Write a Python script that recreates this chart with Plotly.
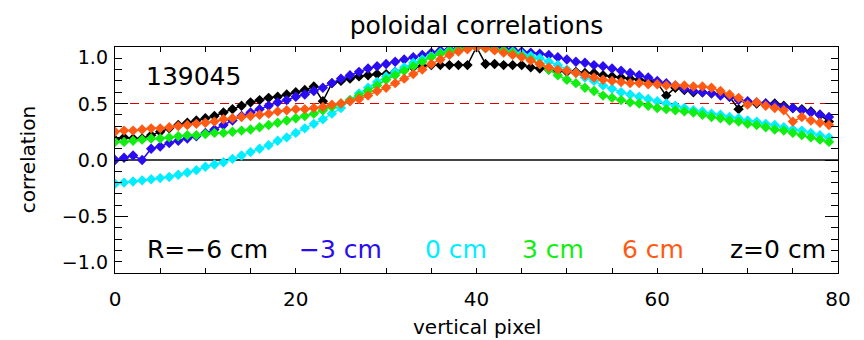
import plotly.graph_objects as go

pixels = list(range(80))

r_m6 = [0.18, 0.20, 0.19, 0.19, 0.22, 0.25, 0.28, 0.31, 0.33, 0.35,
        0.37, 0.39, 0.42, 0.45, 0.48, 0.51, 0.53, 0.55, 0.56, 0.58,
        0.60, 0.62, 0.65, 0.52, 0.68, 0.70, 0.72, 0.74, 0.75, 0.76,
        0.76, 0.78, 0.80, 0.82, 0.83, 0.84, 0.84, 0.84, 0.84, 0.84,
        1.00, 0.85, 0.85, 0.84, 0.84, 0.84, 0.82, 0.81, 0.80, 0.79,
        0.78, 0.78, 0.77, 0.77, 0.75, 0.74, 0.73, 0.72, 0.71, 0.70,
        0.68, 0.57, 0.64, 0.62, 0.60, 0.60, 0.59, 0.58, 0.56, 0.45,
        0.51, 0.50, 0.50, 0.50, 0.48, 0.46, 0.45, 0.43, 0.40, 0.34]

r_m3 = [0.00, 0.02, 0.04, 0.00, 0.10, 0.12, 0.15, 0.17, 0.19, 0.21,
        0.24, 0.27, 0.31, 0.35, 0.39, 0.42, 0.45, 0.48, 0.51, 0.53,
        0.56, 0.58, 0.61, 0.64, 0.68, 0.72, 0.75, 0.78, 0.81, 0.83,
        0.85, 0.87, 0.89, 0.91, 0.93, 0.95, 0.97, 0.98, 0.99, 0.99,
        1.00, 1.00, 0.99, 0.99, 0.98, 0.96, 0.95, 0.94, 0.93, 0.91,
        0.89, 0.87, 0.86, 0.84, 0.83, 0.81, 0.79, 0.77, 0.75, 0.73,
        0.70, 0.68, 0.66, 0.63, 0.61, 0.60, 0.59, 0.57, 0.56, 0.53,
        0.52, 0.51, 0.50, 0.49, 0.47, 0.46, 0.44, 0.42, 0.40, 0.38]

r_0 = [-0.21, -0.20, -0.19, -0.18, -0.17, -0.16, -0.15, -0.13, -0.11, -0.09,
       -0.06, -0.04, -0.02, 0.01, 0.04, 0.07, 0.10, 0.13, 0.17, 0.20,
       0.24, 0.28, 0.32, 0.36, 0.41, 0.46, 0.53, 0.59, 0.64, 0.69,
       0.74, 0.78, 0.82, 0.86, 0.89, 0.92, 0.95, 0.97, 0.98, 0.99,
       1.00, 0.99, 0.98, 0.97, 0.96, 0.94, 0.92, 0.90, 0.87, 0.84,
       0.80, 0.77, 0.73, 0.70, 0.66, 0.63, 0.60, 0.58, 0.56, 0.54,
       0.52, 0.50, 0.48, 0.46, 0.44, 0.43, 0.41, 0.40, 0.38, 0.37,
       0.35, 0.34, 0.32, 0.31, 0.29, 0.27, 0.26, 0.24, 0.22, 0.20]

r_p3 = [0.16, 0.16, 0.17, 0.18, 0.19, 0.19, 0.20, 0.21, 0.22, 0.22,
        0.23, 0.24, 0.24, 0.25, 0.26, 0.27, 0.29, 0.31, 0.33, 0.35,
        0.37, 0.39, 0.41, 0.44, 0.47, 0.50, 0.53, 0.57, 0.61, 0.66,
        0.71, 0.75, 0.79, 0.83, 0.87, 0.91, 0.94, 0.96, 0.98, 0.99,
        1.00, 0.99, 0.98, 0.97, 0.95, 0.92, 0.89, 0.85, 0.80, 0.75,
        0.71, 0.68, 0.64, 0.61, 0.57, 0.55, 0.53, 0.51, 0.50, 0.48,
        0.46, 0.45, 0.44, 0.43, 0.42, 0.40, 0.38, 0.37, 0.35, 0.34,
        0.32, 0.31, 0.29, 0.27, 0.26, 0.24, 0.22, 0.20, 0.18, 0.16]

r_p6 = [0.25, 0.26, 0.26, 0.27, 0.28, 0.28, 0.29, 0.30, 0.31, 0.32,
        0.33, 0.34, 0.36, 0.37, 0.38, 0.39, 0.40, 0.41, 0.43, 0.44,
        0.45, 0.45, 0.46, 0.47, 0.49, 0.50, 0.52, 0.54, 0.57, 0.61,
        0.64, 0.68, 0.72, 0.76, 0.80, 0.85, 0.89, 0.93, 0.96, 0.98,
        1.00, 0.99, 0.97, 0.95, 0.93, 0.91, 0.88, 0.85, 0.82, 0.80,
        0.79, 0.77, 0.75, 0.73, 0.71, 0.70, 0.69, 0.68, 0.68, 0.67,
        0.67, 0.66, 0.66, 0.66, 0.65, 0.65, 0.64, 0.61, 0.58, 0.55,
        0.49, 0.51, 0.48, 0.46, 0.44, 0.34, 0.38, 0.35, 0.33, 0.31]

series = [r_m6, r_m3, r_0, r_p3, r_p6]
labels = ["R=\u22126 cm", "\u22123 cm", "0 cm", "3 cm", "6 cm"]
colors = ["#000000", "#2a0cf0", "#00eeff", "#11ee11", "#ff5a14"]
label_x = [10.2, 24.9, 37.7, 48.5, 59.5]

ytick_vals = [0.91, 0.49, 0.0, -0.5, -0.91]
ytick_text = ["1.0", "0.5", "0.0", "\u22120.5", "\u22121.0"]

FONT = "DejaVu Sans"

fig = go.Figure()
for vals, col in zip(series, colors):
    fig.add_trace(go.Scatter(
        x=pixels, y=vals, mode="lines+markers",
        line=dict(color=col, width=1.5),
        marker=dict(symbol="diamond", size=8, color=col, line=dict(width=0)),
        showlegend=False, hoverinfo="skip"))

# dummy trace so the label axis renders
fig.add_trace(go.Scatter(x=[None], y=[None], yaxis="y2", showlegend=False, hoverinfo="skip"))

for lab, col, lx in zip(labels, colors, label_x):
    fig.add_annotation(x=lx, y=-0.79, xref="x", yref="y", text=lab, showarrow=False,
                       xanchor="center", yanchor="middle",
                       font=dict(family=FONT, size=25, color=col))
fig.add_annotation(x=73.4, y=-0.79, xref="x", yref="y", text="z=0 cm", showarrow=False,
                   xanchor="center", yanchor="middle",
                   font=dict(family=FONT, size=25, color="black"))
fig.add_annotation(x=8.7, y=0.74, xref="x", yref="y", text="139045", showarrow=False,
                   xanchor="center", yanchor="middle",
                   font=dict(family=FONT, size=25, color="black"))

# axis titles
fig.add_annotation(x=-0.12, y=0.5, xref="paper", yref="paper", text="correlation",
                   textangle=-90, showarrow=False, xanchor="center", yanchor="middle",
                   font=dict(family=FONT, size=20, color="black"))
fig.add_annotation(x=0.5, y=-0.239, xref="paper", yref="paper", text="vertical pixel",
                   showarrow=False, xanchor="center", yanchor="middle",
                   font=dict(family=FONT, size=20, color="black"))

fig.add_shape(type="line", xref="paper", x0=0, x1=1, yref="y", y0=0.5, y1=0.5,
              line=dict(color="#e00000", width=1, dash="9px,6px"), layer="below")

fig.update_layout(
    width=864, height=340,
    margin=dict(l=115, r=26, t=47, b=67),
    paper_bgcolor="white", plot_bgcolor="white",
    font=dict(family=FONT, color="black"),
    title=dict(text="poloidal correlations", x=0.5, xref="paper", xanchor="center",
               y=1 - 25 / 340, yref="container", yanchor="middle",
               font=dict(family=FONT, size=25, color="black")),
    xaxis=dict(range=[0, 80], showline=True, linecolor="black", linewidth=1,
               mirror="allticks", ticks="inside", ticklen=5, tickcolor="black",
               tickvals=[0, 20, 40, 60, 80], showgrid=False, zeroline=False,
               tickfont=dict(size=20), ticklabelstandoff=8,
               minor=dict(dtick=5, ticks="inside", ticklen=5, tickcolor="black")),
    yaxis=dict(range=[-1, 1], showline=True, linecolor="black", linewidth=1,
               mirror="allticks", ticks="inside", ticklen=13, tickcolor="black",
               tickvals=[-1, -0.5, 0, 0.5, 1], showticklabels=False, showgrid=False,
               zeroline=True, zerolinecolor="#444444", zerolinewidth=1.5,
               minor=dict(dtick=0.1, ticks="inside", ticklen=7, tickcolor="black")),
    yaxis2=dict(range=[-1, 1], overlaying="y", side="left", showline=False,
                ticks="", tickvals=ytick_vals, ticktext=ytick_text, showgrid=False,
                zeroline=False, tickfont=dict(size=19), ticklabelstandoff=6),
)

fig.write_html("out.html")
